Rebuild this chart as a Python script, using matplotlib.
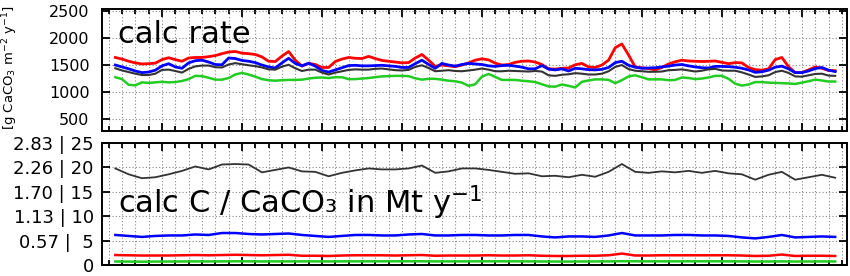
import numpy as np
import matplotlib
matplotlib.use("Agg")
import matplotlib.pyplot as plt

# ---------------- data ----------------
# x positions in "minor tick" units (top panel: every half unit, bottom: every unit)
x_top = 1.0 + 0.5 * np.arange(109)
x_bot = 1.0 + 1.0 * np.arange(55)

red_top = [1640,1610,1570,1540,1520,1525,1535,1600,1635,1600,
           1570,1630,1640,1640,1655,1675,1710,1740,1750,1720,
           1710,1695,1650,1570,1565,1665,1750,1590,1480,1530,
           1510,1455,1455,1565,1610,1640,1625,1620,1660,1620,
           1585,1570,1555,1540,1545,1630,1695,1590,1475,1500,
           1485,1470,1500,1540,1590,1615,1595,1535,1500,1510,
           1550,1570,1575,1555,1510,1430,1425,1440,1445,1505,
           1530,1465,1455,1500,1590,1820,1890,1685,1465,1450,
           1435,1410,1455,1520,1560,1590,1575,1570,1565,1570,
           1575,1550,1525,1545,1540,1455,1415,1405,1430,1600,
           1640,1470,1360,1360,1410,1465,1440,1400,1395]
blue_top = [1500,1465,1430,1390,1360,1370,1405,1485,1525,1465,
            1440,1540,1580,1590,1555,1510,1505,1630,1620,1585,
            1570,1545,1500,1465,1445,1540,1625,1530,1485,1535,
            1480,1400,1370,1410,1450,1490,1495,1485,1485,1490,
            1495,1485,1475,1455,1455,1525,1590,1510,1440,1530,
            1500,1480,1510,1530,1520,1510,1485,1475,1490,1495,
            1480,1460,1430,1430,1490,1425,1410,1430,1390,1440,
            1430,1415,1410,1420,1455,1545,1570,1495,1460,1440,
            1445,1450,1465,1480,1500,1510,1485,1465,1450,1445,
            1475,1475,1470,1460,1440,1410,1365,1375,1405,1460,
            1480,1430,1360,1360,1390,1435,1455,1405,1380]
black_top = [1440,1400,1370,1340,1315,1315,1340,1410,1415,1390,
             1360,1430,1475,1490,1490,1460,1455,1510,1535,1515,
             1495,1480,1455,1420,1415,1470,1505,1440,1390,1415,
             1415,1360,1325,1360,1385,1410,1420,1415,1415,1430,
             1435,1420,1405,1400,1410,1465,1495,1445,1385,1395,
             1405,1390,1385,1400,1415,1435,1415,1385,1385,1395,
             1390,1385,1380,1390,1380,1310,1300,1320,1330,1350,
             1340,1325,1325,1340,1385,1465,1500,1425,1395,1385,
             1375,1375,1380,1405,1410,1420,1400,1380,1395,1420,
             1430,1400,1395,1395,1365,1325,1280,1290,1310,1370,
             1395,1355,1290,1285,1310,1335,1340,1305,1300]
green_top = [1275,1240,1135,1125,1180,1170,1180,1190,1180,1185,
             1205,1240,1300,1295,1265,1230,1230,1260,1325,1355,
             1325,1285,1240,1220,1210,1220,1225,1225,1230,1250,
             1265,1270,1260,1275,1275,1240,1240,1250,1260,1275,
             1290,1295,1300,1300,1295,1255,1230,1245,1245,1230,
             1210,1200,1175,1115,1145,1285,1335,1280,1225,1225,
             1225,1210,1200,1185,1145,1105,1100,1140,1115,1085,
             1190,1215,1235,1235,1225,1165,1220,1290,1310,1275,
             1235,1235,1235,1220,1225,1270,1260,1240,1250,1270,
             1300,1300,1245,1155,1120,1140,1185,1185,1175,1170,
             1165,1160,1150,1175,1200,1230,1215,1195,1195]

black_bot = [19.8,18.6,17.8,18.0,18.6,19.3,20.2,19.6,20.6,20.7,
             20.6,19.0,19.5,20.0,19.2,19.1,18.2,18.9,19.4,19.8,
             19.6,19.6,19.8,20.4,18.9,19.2,19.8,19.8,19.5,19.1,
             18.7,18.8,18.2,18.3,18.0,18.5,18.1,19.1,20.7,19.1,
             18.9,19.2,19.0,19.3,18.9,19.3,18.8,18.6,17.5,18.5,
             19.1,17.5,18.0,18.5,17.9]
blue_bot = [6.2,6.0,5.8,6.0,6.1,6.1,6.3,6.2,6.6,6.6,
            6.4,6.3,6.4,6.5,6.2,6.0,5.8,6.0,6.2,6.2,
            6.1,6.1,6.3,6.4,6.1,6.1,6.2,6.2,6.1,6.1,
            6.2,6.2,5.9,5.7,5.9,5.9,5.8,6.1,6.6,6.1,
            6.1,6.1,6.2,6.2,6.1,6.1,6.0,5.7,5.5,5.8,
            6.2,5.7,5.8,5.9,5.8]
red_bot = [2.10,2.05,2.00,2.00,2.00,2.05,2.10,2.05,2.10,2.15,
           2.10,2.05,2.10,2.15,1.95,1.95,1.90,2.00,2.05,2.05,
           2.05,2.00,2.05,2.10,1.95,2.00,2.00,2.00,2.05,2.00,
           2.00,2.05,1.95,1.90,1.90,1.95,1.95,2.05,2.40,2.00,
           2.00,2.05,2.05,2.05,2.05,2.05,2.05,2.00,1.90,1.95,
           2.20,1.90,1.95,1.95,1.90]
green_bot = [0.78,0.76,0.74,0.76,0.77,0.78,0.80,0.79,0.80,0.82,
             0.81,0.79,0.80,0.80,0.80,0.80,0.79,0.80,0.81,0.81,
             0.82,0.82,0.82,0.82,0.80,0.80,0.80,0.81,0.82,0.81,
             0.81,0.80,0.78,0.77,0.76,0.78,0.79,0.80,0.84,0.82,
             0.81,0.81,0.81,0.82,0.82,0.82,0.81,0.80,0.77,0.78,
             0.80,0.77,0.78,0.79,0.78]

top_yticks = [500, 1000, 1500, 2000, 2500]
bot_yticks = [0, 5, 10, 15, 20, 25]
bot_ylabels = ["0", "0.57 |  5", "1.13 | 10", "1.70 | 15", "2.26 | 20", "2.83 | 25"]

C_RED = "#ff0000"
C_BLUE = "#0000ff"
C_BLACK = "#333333"
C_GREEN = "#22cc22"

# ---------------- figure ----------------
W, H = 850, 276
fig = plt.figure(figsize=(W / 100, H / 100), dpi=100)

def px_axes(l, t, r, b):
    return fig.add_axes([l / W, 1 - b / H, (r - l) / W, (b - t) / H])

ax1 = px_axes(102, 8.5, 846.5, 130.5)
ax2 = px_axes(102, 143, 846.5, 265.3)

XMAX = 55.85
minor_x = np.arange(0.5, 55.6, 1.0)
major_x = np.arange(4.5, 55.0, 6.0)

for ax in (ax1, ax2):
    ax.set_xlim(0, XMAX)
    ax.set_xticks(major_x)
    ax.set_xticks(minor_x, minor=True)
    ax.set_xticklabels([])
    ax.tick_params(axis="both", which="both", direction="in",
                   top=True, right=True, width=1.3, color="black")
    ax.tick_params(axis="x", which="major", length=6)
    ax.tick_params(axis="x", which="minor", length=3.5)
    ax.tick_params(axis="y", which="major", length=6)
    ax.grid(True, axis="x", which="both", linestyle=(0, (1, 2)),
            color="#888888", linewidth=0.8)
    ax.grid(True, axis="y", which="major", linestyle=(0, (1, 2)),
            color="#888888", linewidth=0.8)
    for s in ax.spines.values():
        s.set_linewidth(1.4)
        s.set_color("black")
    ax.set_axisbelow(True)

# top panel
ax1.plot(x_top, red_top, color=C_RED, lw=2.0)
ax1.plot(x_top, blue_top, color=C_BLUE, lw=2.0)
ax1.plot(x_top, black_top, color=C_BLACK, lw=1.5)
ax1.plot(x_top, green_top, color=C_GREEN, lw=1.8)
ax1.set_ylim(290, 2545)
ax1.set_yticks(top_yticks)
ax1.set_yticklabels([str(v) for v in top_yticks], fontsize=11.5)
ax1.tick_params(axis="y", pad=9)
ax1.text(0.0215, 0.72, "calc rate", transform=ax1.transAxes,
         fontsize=22, va="baseline", ha="left")
fig.text(10 / W, 1 - 68 / H, "[g CaCO$_3$ m$^{-2}$ y$^{-1}$]",
         rotation=90, fontsize=9.5, ha="center", va="center")

# bottom panel
ax2.plot(x_bot, black_bot, color=C_BLACK, lw=1.3)
ax2.plot(x_bot, blue_bot, color=C_BLUE, lw=1.8)
ax2.plot(x_bot, red_bot, color=C_RED, lw=1.8)
ax2.plot(x_bot, green_bot, color=C_GREEN, lw=1.8)
ax2.set_ylim(0, 25)
ax2.set_yticks(bot_yticks)
ax2.set_yticklabels(bot_ylabels, fontsize=13)
ax2.tick_params(axis="y", pad=6)
ax2.text(0.0215, 0.425, "calc C / CaCO\u2083 in Mt y$^{-1}$",
         transform=ax2.transAxes, fontsize=22, va="baseline", ha="left")

fig.savefig("out.png", dpi=100)
